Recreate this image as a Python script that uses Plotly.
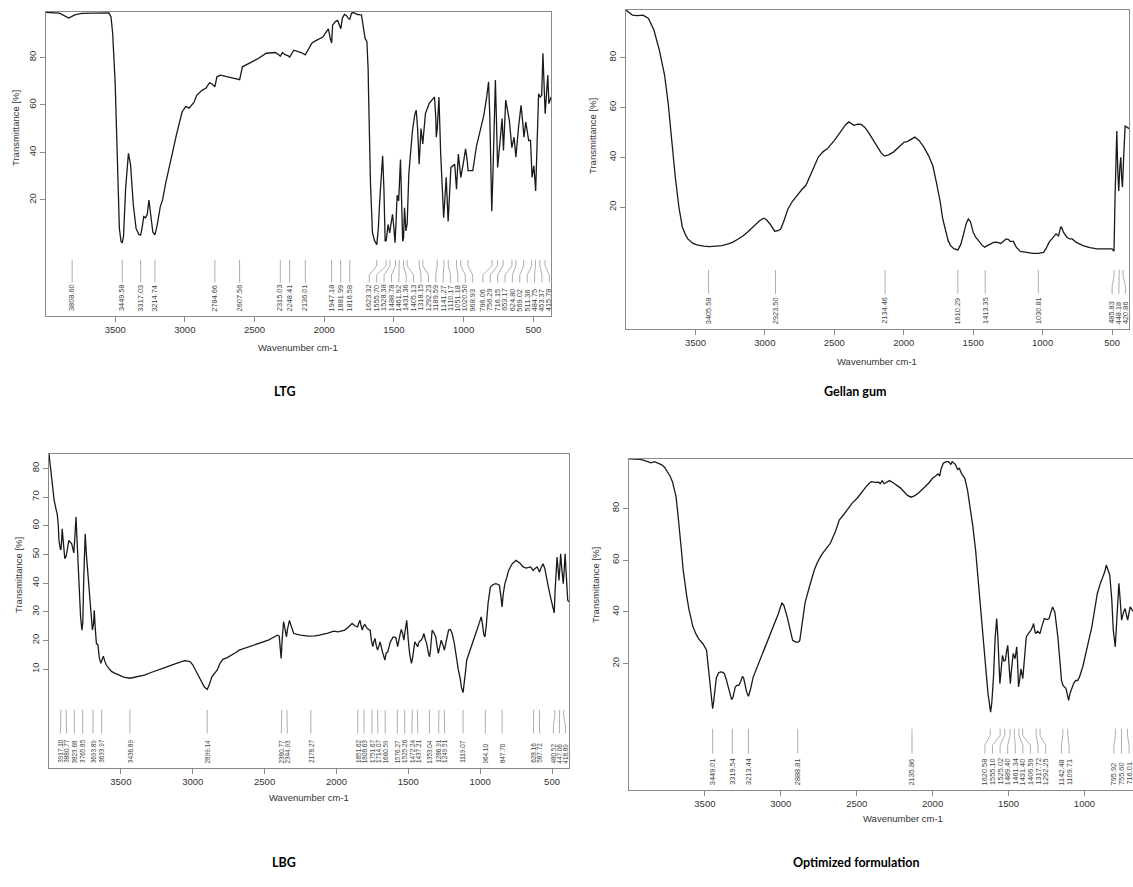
import plotly.graph_objects as go

FIG_W, FIG_H = 1133, 887

# ---------------- data ----------------
ltg_wn = [4000, 3900, 3833, 3790, 3741, 3640, 3545, 3530, 3518, 3500, 3484, 3470, 3458, 3449, 3440, 3425, 3405, 3390, 3370, 3350, 3330, 3317, 3305, 3295, 3282, 3270, 3258, 3245, 3230, 3215, 3200, 3177, 3160, 3138, 3098, 3059, 3020, 2993, 2970, 2954, 2935, 2915, 2875, 2849, 2823, 2805, 2785, 2770, 2744, 2692, 2650, 2607, 2587, 2534, 2482, 2416, 2350, 2324, 2315, 2300, 2285, 2258, 2248, 2219, 2190, 2166, 2136, 2110, 2088, 2060, 2035, 2010, 1983, 1970, 1957, 1947, 1940, 1920, 1904, 1891, 1881, 1870, 1855, 1840, 1825, 1816, 1805, 1790, 1760, 1733, 1715, 1707, 1694, 1685, 1681, 1668, 1654, 1640, 1623, 1612, 1602, 1590, 1581, 1572, 1563, 1555, 1548, 1542, 1531, 1520, 1510, 1500, 1492, 1484, 1477, 1466, 1453, 1445, 1437, 1431, 1424, 1414, 1405, 1393, 1367, 1350, 1340, 1330, 1319, 1306, 1293, 1274, 1248, 1220, 1209, 1200, 1196, 1189, 1177, 1165, 1150, 1143, 1135, 1125, 1111, 1100, 1091, 1064, 1051, 1038, 1030, 1020, 999, 986, 975, 968, 934, 907, 881, 855, 835, 821, 812, 798, 790, 780, 772, 765, 756, 738, 724, 714, 698, 672, 654, 638, 625, 606, 588, 575, 567, 554, 533, 520, 509, 496, 483, 462, 450, 440, 431, 415, 396, 388, 373]
ltg_t = [98.9, 98.6, 96.5, 97.8, 98.5, 98.7, 98.7, 97, 90, 69, 33.7, 8, 2.5, 1.9, 5, 25, 39.6, 35, 18, 8, 5.5, 5.2, 9, 13, 12.5, 14, 20, 14, 6.5, 5.3, 9, 17, 20, 27, 38, 47.8, 57, 59.4, 58.6, 59.5, 61, 64, 66.2, 67, 69.3, 68.8, 67.6, 71.8, 72.5, 71.8, 71.3, 70.6, 76, 77.5, 79.2, 81.7, 82, 81, 80.5, 82, 81.2, 80.6, 80, 83, 82.5, 82, 81, 84, 86, 87, 87.6, 88.5, 90.9, 92, 88, 86, 93.5, 95, 95.5, 93, 92, 96.5, 98, 97.5, 96.2, 96, 98.5, 98.8, 98, 97.8, 92, 88, 86.6, 75, 62, 26.6, 6.2, 3, 1.2, 8, 19.6, 33, 38.6, 25, 2.6, 3, 8, 9.7, 6.2, 10, 14, 8, 2, 12, 22, 19.6, 37, 20, 2.6, 4, 16.7, 7, 10, 31, 49.2, 56, 57.7, 50, 35, 50, 43.6, 56.3, 60.5, 62.5, 63.3, 55, 46.4, 50, 63.3, 40, 18, 12.5, 20, 29.5, 11, 22, 33.7, 35, 24.5, 39.3, 35, 29.5, 36.5, 41.5, 37, 32.3, 32.3, 42.9, 49.2, 55.6, 63, 69.7, 55, 15.3, 30, 55, 70.4, 55, 33.7, 45, 54.2, 40.8, 62, 53.5, 42, 46.4, 38, 50.6, 59.8, 52, 46.4, 52.8, 45, 45, 29.5, 34.4, 23.8, 64.7, 63.3, 64, 81.7, 56.3, 72.5, 60.5, 63.3]
ltg_peaks = [3808.60, 3449.58, 3317.03, 3214.74, 2784.66, 2607.56, 2315.03, 2248.41, 2136.01, 1947.18, 1881.99, 1816.58, 1623.32, 1555.70, 1528.38, 1488.78, 1461.92, 1431.36, 1405.13, 1318.15, 1292.23, 1189.59, 1141.27, 1110.17, 1051.18, 1020.50, 968.93, 796.06, 756.29, 716.15, 653.17, 624.80, 569.02, 511.36, 484.75, 453.37, 415.78]

gellan_wn = [4000, 3980, 3954, 3920, 3877, 3838, 3799, 3760, 3722, 3696, 3671, 3645, 3619, 3594, 3570, 3555, 3520, 3490, 3440, 3400, 3350, 3310, 3270, 3233, 3195, 3156, 3120, 3078, 3040, 3010, 2990, 2963, 2940, 2929, 2905, 2886, 2860, 2834, 2800, 2770, 2735, 2705, 2667, 2615, 2580, 2551, 2499, 2448, 2420, 2396, 2375, 2358, 2330, 2306, 2280, 2255, 2203, 2165, 2139, 2110, 2074, 2035, 1997, 1975, 1958, 1935, 1920, 1890, 1855, 1820, 1791, 1765, 1739, 1720, 1701, 1680, 1662, 1640, 1610, 1590, 1572, 1550, 1535, 1520, 1500, 1482, 1460, 1440, 1418, 1400, 1380, 1353, 1330, 1302, 1280, 1263, 1245, 1235, 1211, 1190, 1160, 1120, 1070, 1030, 993, 975, 954, 930, 903, 885, 870, 864, 850, 825, 806, 787, 760, 710, 660, 607, 560, 517, 500, 491, 486, 478, 466, 459, 452, 444, 437, 431, 425, 415, 406, 390, 378]
gellan_t = [99, 98, 97, 96.8, 97, 95.7, 91, 83, 72.9, 61.5, 46.8, 32, 20, 12, 8.8, 7.3, 5.6, 4.9, 4.4, 4.2, 4.4, 4.6, 5.2, 5.9, 7.2, 8.6, 10.3, 12.6, 14.5, 15.6, 15.1, 13.3, 11, 10.4, 10.6, 11.3, 15, 19.3, 22.5, 24.7, 27, 28.7, 33.4, 40.1, 42.3, 43.4, 46.8, 50.8, 53, 54.2, 53.5, 52.8, 53.3, 53.2, 52, 50.1, 45.4, 42, 40.5, 41, 42.1, 44, 46.1, 46.3, 46.8, 47.8, 48.1, 46.8, 44.1, 40.5, 36.7, 30, 22.7, 15.5, 10.6, 6.5, 4.6, 3.4, 2.9, 5, 8.6, 13.5, 15.3, 14.3, 10, 8, 6.5, 5, 4, 4.6, 5.3, 5.9, 6, 5.5, 6.5, 7.3, 7, 6.3, 6.3, 4, 2.3, 1.9, 1.5, 1.5, 1.9, 3.5, 5.9, 7.5, 9.3, 8.5, 12, 12, 10, 8, 7.3, 7.3, 6, 4.6, 3.8, 3.3, 3.2, 3.3, 3.3, 2.6, 2.4, 25, 50.5, 35, 26.5, 36, 40, 32, 28, 42, 52.5, 52, 51.5]
gellan_peaks = [3405.58, 2923.50, 2134.46, 1610.29, 1413.35, 1030.81, 485.83, 448.18, 420.86]

lbg_wn = [4000, 3990, 3982, 3970, 3964, 3950, 3943, 3935, 3931, 3922, 3917, 3912, 3908, 3900, 3890, 3880, 3870, 3862, 3842, 3834, 3827, 3820, 3812, 3805, 3791, 3780, 3771, 3765, 3758, 3748, 3740, 3728, 3716, 3705, 3698, 3690, 3685, 3678, 3670, 3660, 3650, 3639, 3630, 3622, 3610, 3601, 3580, 3563, 3540, 3513, 3480, 3437, 3400, 3336, 3290, 3234, 3180, 3133, 3095, 3057, 3035, 3019, 3000, 2981, 2960, 2943, 2920, 2899, 2885, 2867, 2850, 2829, 2810, 2791, 2760, 2727, 2700, 2677, 2620, 2575, 2520, 2474, 2440, 2411, 2398, 2390, 2385, 2378, 2368, 2358, 2348, 2340, 2327, 2315, 2297, 2250, 2195, 2150, 2119, 2060, 2018, 1990, 1942, 1920, 1900, 1891, 1870, 1853, 1845, 1836, 1828, 1820, 1812, 1803, 1785, 1765, 1757, 1747, 1740, 1732, 1722, 1714, 1705, 1696, 1680, 1670, 1663, 1655, 1643, 1625, 1605, 1587, 1580, 1574, 1560, 1549, 1540, 1531, 1520, 1511, 1500, 1490, 1478, 1470, 1455, 1445, 1435, 1425, 1410, 1400, 1392, 1380, 1372, 1360, 1352, 1345, 1334, 1320, 1309, 1300, 1291, 1280, 1271, 1260, 1249, 1235, 1220, 1207, 1195, 1180, 1170, 1160, 1152, 1140, 1130, 1119, 1110, 1100, 1094, 1080, 1069, 1050, 1031, 1010, 993, 985, 975, 967, 958, 945, 929, 910, 891, 875, 866, 855, 848, 840, 828, 815, 802, 780, 752, 725, 701, 680, 660, 650, 640, 632, 620, 604, 595, 587, 575, 562, 550, 537, 525, 511, 498, 485, 478, 470, 465, 458, 452, 446, 440, 432, 422, 415, 409, 400, 391, 382]
lbg_t = [85, 80, 75.7, 70.5, 68.8, 65.5, 64.1, 60, 55, 52, 51.5, 55, 58.9, 54, 48.5, 49.5, 53.5, 54.9, 53.7, 52, 50.5, 56, 63, 55, 38.6, 28, 23.6, 26, 42, 57.2, 50, 42.1, 32.8, 26, 23.6, 26, 30.5, 24, 18.9, 18.5, 14, 12, 13, 14.5, 12.5, 11.4, 10, 9.1, 8.5, 7.9, 7.2, 6.8, 7.3, 7.9, 8.8, 9.9, 10.8, 11.6, 12.3, 12.9, 12.8, 12.6, 11.5, 9.7, 7.5, 5.6, 3.8, 2.9, 4.5, 7.3, 8.5, 9.7, 12, 13.4, 14, 14.9, 15.8, 16.6, 17.6, 18.3, 19.2, 20.1, 21, 21.8, 21.5, 18, 13.7, 20, 26.5, 24, 21.2, 24, 27, 25, 22.4, 21.8, 21.5, 21.6, 21.8, 22.5, 23.2, 23, 23.6, 24.5, 25.5, 25.9, 25, 24.7, 26, 27, 25, 23.6, 25, 25.5, 24.1, 23.5, 20, 17.8, 19.5, 20.7, 18, 16.6, 18, 19.5, 16, 14, 13.1, 15.5, 16, 19.5, 21.2, 21, 19, 17.8, 21.5, 23.8, 22.5, 20.1, 24, 27, 20, 15, 12, 14, 19.5, 18.5, 17.8, 19.5, 20.1, 21, 22.4, 20, 18.9, 15.5, 14.3, 17, 23.6, 22.5, 21.2, 18, 15.5, 18, 20.1, 18.5, 16.6, 20, 23.6, 23.8, 22.4, 19, 15.5, 11, 9.7, 7, 3.5, 1.8, 5, 10, 13.1, 15, 16.6, 19.5, 22.4, 25.5, 28.2, 26, 22, 21.2, 25, 33, 38.6, 39.5, 39.8, 39.5, 39.2, 35, 31.7, 36, 39.8, 42, 44.4, 46.5, 47.9, 47, 45.6, 45.2, 45.5, 45.6, 45, 44.4, 45, 45.6, 44.8, 43.8, 45.5, 46.7, 45, 40.9, 38.5, 35.2, 32, 29.6, 38, 45, 49.1, 45, 40.9, 45, 50.2, 45, 39.8, 45, 50.2, 42, 34, 33.4]
lbg_peaks = [3917.10, 3880.77, 3823.68, 3765.85, 3693.89, 3633.97, 3436.89, 2899.14, 2380.77, 2344.93, 2178.27, 1851.62, 1808.63, 1751.67, 1714.07, 1660.59, 1576.27, 1525.26, 1472.24, 1437.21, 1353.04, 1286.91, 1249.51, 1119.07, 964.10, 847.70, 628.16, 587.72, 480.52, 447.06, 418.89]

opt_wn = [4000, 3960, 3926, 3900, 3879, 3855, 3832, 3810, 3784, 3765, 3749, 3730, 3714, 3700, 3690, 3680, 3666, 3655, 3643, 3630, 3619, 3605, 3596, 3580, 3560, 3540, 3513, 3500, 3489, 3480, 3470, 3460, 3452, 3449, 3443, 3435, 3425, 3410, 3395, 3380, 3371, 3360, 3347, 3335, 3324, 3315, 3300, 3290, 3277, 3265, 3253, 3245, 3236, 3225, 3213, 3200, 3182, 3160, 3135, 3110, 3088, 3065, 3040, 3015, 2993, 2980, 2958, 2940, 2922, 2900, 2885, 2875, 2860, 2839, 2810, 2780, 2760, 2733, 2700, 2674, 2640, 2615, 2580, 2556, 2530, 2497, 2465, 2438, 2415, 2402, 2380, 2355, 2345, 2332, 2320, 2308, 2295, 2284, 2260, 2237, 2215, 2190, 2165, 2143, 2120, 2095, 2070, 2048, 2025, 2001, 1980, 1965, 1953, 1945, 1930, 1910, 1895, 1880, 1871, 1850, 1835, 1824, 1810, 1788, 1770, 1753, 1735, 1717, 1700, 1682, 1670, 1658, 1645, 1635, 1625, 1618, 1610, 1599, 1588, 1578, 1570, 1557, 1548, 1540, 1530, 1521, 1512, 1505, 1495, 1488, 1480, 1469, 1457, 1446, 1440, 1434, 1426, 1418, 1406, 1395, 1383, 1370, 1352, 1340, 1335, 1328, 1321, 1308, 1293, 1280, 1264, 1245, 1233, 1220, 1210, 1195, 1175, 1160, 1151, 1140, 1132, 1122, 1116, 1104, 1095, 1081, 1070, 1057, 1045, 1033, 1010, 986, 965, 951, 935, 915, 895, 880, 866, 856, 845, 833, 820, 810, 797, 785, 773, 765, 755, 742, 732, 722, 715, 705, 699, 684, 675]
opt_t = [99.1, 99, 98.9, 98.5, 98.1, 97.6, 98, 97.5, 96.8, 95.8, 94.2, 92.5, 90.3, 87.5, 84.5, 79, 71.6, 64, 56.1, 50, 45.8, 41, 38.1, 34.5, 31.6, 29.5, 27.7, 26.5, 25.2, 20, 13.5, 7, 3, 2.6, 5, 10, 14.5, 16.5, 16.8, 16.6, 16.1, 14, 11, 7.5, 6.1, 7, 11, 11.6, 11.6, 13, 15.1, 14.5, 12.3, 9, 7.4, 10, 14.8, 18, 21.9, 25, 28.4, 32, 35.5, 39.5, 43.5, 42.5, 38.1, 33, 29, 28.3, 28.3, 29, 36, 43.9, 50, 56.1, 59, 61.9, 64.5, 66.5, 71, 75.5, 78, 80, 82, 83.9, 86.5, 88.4, 89.8, 90.3, 90, 90.1, 89.5, 90.7, 89.5, 89.8, 90.4, 90.7, 89.9, 89, 88, 86.5, 85, 84.3, 84.8, 85.8, 87, 88.4, 89.8, 91.6, 92.5, 93.3, 92.5, 95, 97.4, 98, 98, 97, 98, 97, 95, 95.5, 93.5, 91.6, 87, 80.6, 73, 63.9, 53, 41.9, 33, 25.2, 15, 8.4, 3, 1.3, 5, 14.8, 30, 37.4, 30, 12.3, 18, 23.2, 21, 21.3, 25, 27.1, 18, 12.3, 18, 23.9, 21.9, 26.5, 20, 11, 14, 18, 14.2, 22, 30.3, 31.5, 32.9, 34.5, 35.5, 33, 31.6, 32.5, 31.6, 34.5, 37.4, 37, 37.4, 40, 41.9, 40, 30.3, 20, 13.5, 11.5, 11, 10.5, 9, 5.8, 8.5, 11, 12.5, 13.5, 13.5, 14.8, 19, 25.2, 30, 34.2, 40, 47.1, 51, 53.5, 55.5, 58.1, 56, 54.2, 45, 33, 26.5, 40, 51, 45, 36.8, 40, 41.3, 38.5, 36.8, 40, 41.9, 40.6, 40]
opt_peaks = [3449.01, 3319.54, 3213.44, 2888.81, 2135.86, 1620.58, 1555.10, 1525.02, 1489.40, 1461.34, 1431.40, 1406.59, 1317.72, 1292.25, 1142.48, 1109.71, 795.92, 755.60, 716.01]

x_ticks = [3500, 3000, 2500, 2000, 1500, 1000, 500]
y_ticks_main = [20, 40, 60, 80]
y_ticks_lbg = [10, 20, 30, 40, 50, 60, 70, 80]
captions = ["LTG", "Gellan gum", "LBG", "Optimized formulation"]
y_title = "Transmittance [%]"
x_title = "Wavenumber cm-1"

# ---------------- layout settings ----------------
AXC = "#8a8a8a"
TXT = "#333333"
FONT = "Liberation Sans"

panels = [
    dict(wn=ltg_wn, t=ltg_t, peaks=ltg_peaks, cap=captions[0], box=(45.5, 12, 551, 316),
         xr=(4000, 373), yr=(-28.8, 99.05), yt=y_ticks_main, gap=53, lfs=7.4, mirror_y=True,
         ytp=(15, 128), xtp=(298, 347), capp=(285, 391)),
    dict(wn=gellan_wn, t=gellan_t, peaks=gellan_peaks, cap=captions[1], box=(626, 10, 1129, 329),
         xr=(4000, 378), yr=(-28.8, 99.05), yt=y_ticks_main, gap=48, lfs=7.4, mirror_y=True,
         ytp=(593, 136), xtp=(877, 361), capp=(855, 391)),
    dict(wn=lbg_wn, t=lbg_t, peaks=lbg_peaks, cap=captions[2], box=(49, 454, 569, 768),
         xr=(4000, 382), yr=(-24.5, 85), yt=y_ticks_lbg, gap=42, lfs=6.4, mirror_y=True,
         ytp=(18, 575), xtp=(309, 797), capp=(284, 862)),
    dict(wn=opt_wn, t=opt_t, peaks=opt_peaks, cap=captions[3], box=(629, 459, 1133, 790),
         xr=(4000, 680), yr=(-28.8, 99.05), yt=y_ticks_main, gap=50, lfs=7.4, mirror_y=False,
         ytp=(595, 585), xtp=(903, 818), capp=(856, 862)),
]


def spread_labels(peaks, gap, lo):
    """Isotonic (PAVA) spreading of label positions with a minimum gap,
    keeping every label at or above the wavenumber `lo`."""
    n = len(peaks)
    order = sorted(range(n), key=lambda i: -peaks[i])
    p = [-peaks[i] for i in order]
    z = [p[k] - k * gap for k in range(n)]
    blocks = []
    for v in z:
        blocks.append([v, 1])
        while len(blocks) > 1 and blocks[-2][0] / blocks[-2][1] > blocks[-1][0] / blocks[-1][1]:
            s, c = blocks.pop()
            blocks[-1][0] += s
            blocks[-1][1] += c
    r = []
    for s, c in blocks:
        r += [s / c] * c
    upper = -lo - (n - 1) * gap
    r = [min(v, upper) for v in r]
    q = [-(r[k] + k * gap) for k in range(n)]
    out = [0] * n
    for k, i in enumerate(order):
        out[i] = q[k]
    return out


fig = go.Figure()
layout = dict(width=FIG_W, height=FIG_H, margin=dict(l=0, r=0, t=0, b=0),
              paper_bgcolor="white", plot_bgcolor="white", showlegend=False)
annotations = []

for i, p in enumerate(panels, start=1):
    sfx = "" if i == 1 else str(i)
    xa, ya = "x" + sfx, "y" + sfx
    x0, y0, x1, y1 = p["box"]
    ymin, ymax = p["yr"]
    layout["xaxis" + sfx] = dict(
        domain=[x0 / FIG_W, min(x1 / FIG_W, 1.0)], range=list(p["xr"]), anchor=ya,
        tickvals=x_ticks, ticks="outside", ticklen=5, tickcolor=AXC, tickwidth=1,
        showline=True, linecolor=AXC, linewidth=1, mirror=True,
        showgrid=False, zeroline=False, tickfont=dict(family=FONT, size=9.5, color=TXT))
    layout["yaxis" + sfx] = dict(
        domain=[1 - y1 / FIG_H, 1 - y0 / FIG_H], range=[ymin, ymax], anchor=xa,
        tickvals=p["yt"], ticks="outside", ticklen=5, tickcolor=AXC, tickwidth=1,
        tickangle=-90, showline=True, linecolor=AXC, linewidth=1, mirror=p["mirror_y"],
        showgrid=False, zeroline=False, tickfont=dict(family=FONT, size=9.5, color=TXT))

    # spectrum
    fig.add_trace(go.Scatter(x=p["wn"], y=p["t"], mode="lines", xaxis=xa, yaxis=ya,
                             line=dict(color="#1a1a1a", width=1.3), hoverinfo="skip"))

    # peak label connectors
    def yd(f):
        return ymin + f * (ymax - ymin)
    lab = spread_labels(p["peaks"], p["gap"], p["xr"][1] + 12)
    cx, cy = [], []
    for w, l in zip(p["peaks"], lab):
        cx += [w, w, l, l, None]
        cy += [yd(0.185), yd(0.165), yd(0.135), yd(0.11), None]
    fig.add_trace(go.Scatter(x=cx, y=cy, mode="lines", xaxis=xa, yaxis=ya,
                             line=dict(color="#9a9a9a", width=0.8), hoverinfo="skip"))
    for w, l in zip(p["peaks"], lab):
        annotations.append(dict(text=f"{w:.2f}", x=l, y=0.012, xref=xa, yref=ya + " domain",
                                textangle=-90, xanchor="center", yanchor="bottom",
                                showarrow=False, borderpad=0,
                                font=dict(family=FONT, size=p["lfs"], color="#444444")))

    # axis titles
    annotations.append(dict(text=y_title, x=p["ytp"][0] / FIG_W, y=1 - p["ytp"][1] / FIG_H,
                            xref="paper", yref="paper", textangle=-90, showarrow=False,
                            xanchor="center", yanchor="middle",
                            font=dict(family=FONT, size=9.5, color=TXT)))
    annotations.append(dict(text=x_title, x=p["xtp"][0] / FIG_W, y=1 - p["xtp"][1] / FIG_H,
                            xref="paper", yref="paper", showarrow=False,
                            xanchor="center", yanchor="middle",
                            font=dict(family=FONT, size=9.5, color=TXT)))
    # caption
    annotations.append(dict(text=p["cap"], x=p["capp"][0] / FIG_W, y=1 - p["capp"][1] / FIG_H,
                            xref="paper", yref="paper", showarrow=False,
                            xanchor="center", yanchor="middle",
                            font=dict(family="Lato", size=12.5, color="black", weight="bold")))

layout["annotations"] = annotations
fig.update_layout(**layout)
fig.write_html("out.html", config={"displayModeBar": False, "staticPlot": True},
               post_script="document.body.style.margin='0px';")
